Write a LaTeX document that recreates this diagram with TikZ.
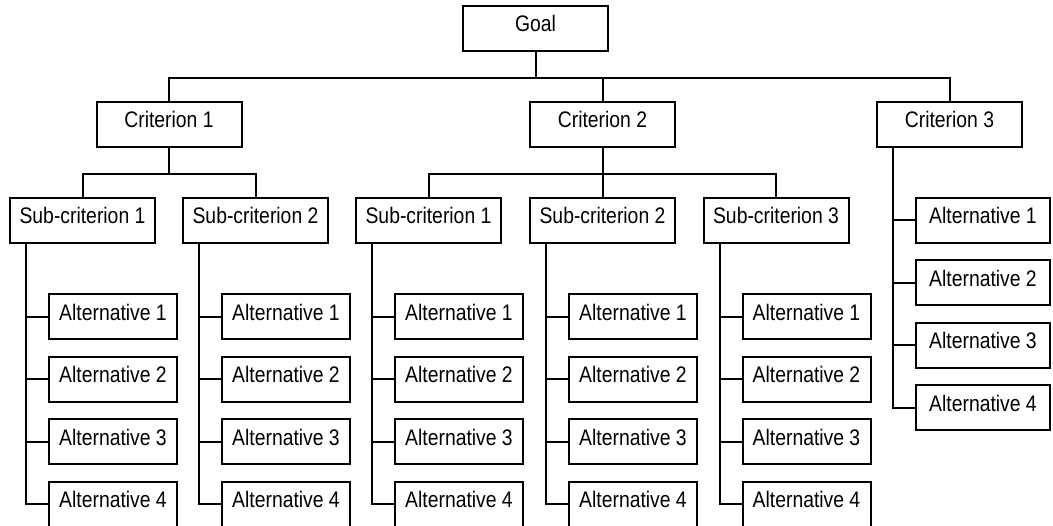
\documentclass[tikz,border=0pt]{standalone}
\usepackage{fontspec}
\setmainfont{Liberation Sans}[FakeStretch=0.86]
\begin{document}
\begin{tikzpicture}[x=1pt,y=-1pt,line width=2pt,
caja/.style={draw,minimum width=145pt,minimum height=45pt,inner sep=0pt,
text height=16pt,text depth=9pt,font=\fontsize{22.5}{24}\selectfont},
alternativa/.style={caja,minimum width=128pt}]
\useasboundingbox (0,0) rectangle (1053,526);
\node[caja] (goal) at (535.5,28.5) {Goal};
\node[caja] (crit1) at (169,124.5) {Criterion 1};
\node[caja] (crit2) at (602.5,124.5) {Criterion 2};
\node[caja] (crit3) at (949.5,124.5) {Criterion 3};
\foreach \criterio in {crit1,crit2,crit3}
\draw (goal.south) -- ++(0,26) -| (\criterio.north);
%
% subcriterios
\foreach \nombre/\centro/\numero in {sub11/82.5/1,sub12/255.5/2,%
sub21/428.5/1,sub22/602.5/2,sub23/776/3}
\node[caja] (\nombre) at (\centro,220.5) {Sub-criterion \numero};
\foreach \criterio/\nombre in {crit1/sub11,crit1/sub12,crit2/sub21,%
crit2/sub22,crit2/sub23}
\draw (\criterio.south) -- ++(0,26) -| (\nombre.north);
%
% alternativas
\foreach \nombre/\centro in {sub11/82.5,sub12/255.5,sub21/428.5,%
sub22/602.5,sub23/776}
\foreach \fila in {1,...,4} {
\node[alternativa] (\nombre-\fila) at ({\centro+30.5},{317+62.5*(\fila-1)}) {Alternative \fila};
\draw ([xshift=17pt]\nombre.south west) |- (\nombre-\fila.west);
}
\foreach \fila in {1,...,4} {
\node[alternativa,minimum width=134pt] (crit3-\fila) at (983,{220.5+62.5*(\fila-1)}) {Alternative \fila};
\draw ([xshift=17pt]crit3.south west) |- (crit3-\fila.west);
}
\end{tikzpicture}
\end{document}
